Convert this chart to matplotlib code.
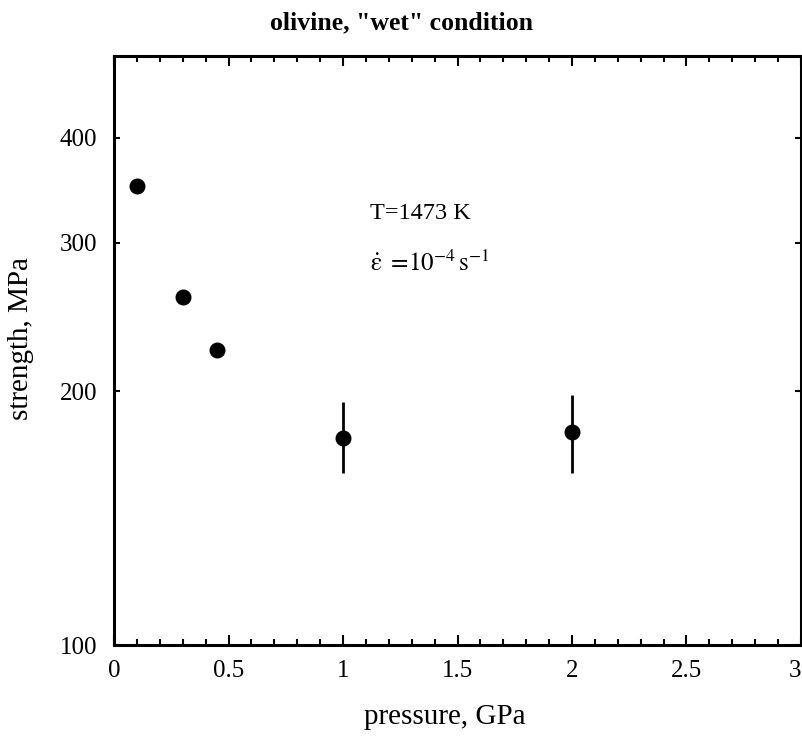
import matplotlib
matplotlib.use('Agg')
import matplotlib.pyplot as plt
from matplotlib.ticker import MultipleLocator, FixedLocator, NullLocator, FixedFormatter

# data
pressure = [0.1, 0.3, 0.45, 1.0, 2.0]
strength = [351, 259, 224, 176, 179]
err_low = [0, 0, 0, 16, 19]
err_high = [0, 0, 0, 18, 19]

xtick_vals = [0, 0.5, 1, 1.5, 2, 2.5, 3]
xtick_labels = ['0', '0.5', '1', '1.5', '2', '2.5', '3']
ytick_vals = [100, 200, 300, 400]
ytick_labels = ['100', '200', '300', '400']

plt.rcParams['font.family'] = ['Liberation Serif', 'DejaVu Serif']
plt.rcParams['mathtext.fontset'] = 'stix'

fig = plt.figure(figsize=(8.03, 7.42), dpi=100)
ax = fig.add_axes([0.142, 0.1307, 0.8555, 0.7938])

# points without error bars
ax.plot(pressure[:3], strength[:3], 'o', color='black', markersize=10.5)
# points with error bars
ax.errorbar(pressure[3:], strength[3:], yerr=[err_low[3:], err_high[3:]],
            fmt='o', color='black', markersize=10.5, elinewidth=2, capsize=0)

ax.set_yscale('log')
ax.set_xlim(0, 3)
ax.set_ylim(100, 500)

ax.set_xticks(xtick_vals)
ax.set_xticklabels(xtick_labels)
ax.xaxis.set_minor_locator(MultipleLocator(0.1))
# last label sits at the figure edge, keep it inside
ax.get_xticklabels()[-1].set_horizontalalignment('right')
ax.get_xticklabels()[-1].set_x(3)

ax.yaxis.set_major_locator(FixedLocator(ytick_vals))
ax.yaxis.set_major_formatter(FixedFormatter(ytick_labels))
ax.yaxis.set_minor_locator(NullLocator())

ax.tick_params(axis='x', which='major', direction='in', top=True, length=7, width=1.5,
               labelsize=18, pad=11)
ax.tick_params(axis='x', which='minor', direction='in', top=True, length=4, width=1.5)
ax.tick_params(axis='y', which='major', direction='in', right=True, length=4, width=1.5,
               labelsize=18, pad=12)

for sp in ax.spines.values():
    sp.set_linewidth(2.2)

ax.set_xlabel('pressure, GPa', fontsize=21)
ax.set_ylabel('strength, MPa', fontsize=21)
ax.xaxis.set_label_coords(0.482, -0.1)
ax.yaxis.set_label_coords(-0.116, 0.52)

fig.suptitle('olivine, "wet" condition', fontsize=18.5, fontweight='bold', x=0.5, y=0.985)

ax.text(1.12, 325, 'T=1473 K', fontsize=17.5, va='center', ha='left')
ax.text(1.12, 284, r'$\dot{\mathrm{ε}}\ =\!10^{-4}\,\mathrm{s}^{-1}$', fontsize=18,
        va='center', ha='left')

fig.savefig('out.png', dpi=100)
